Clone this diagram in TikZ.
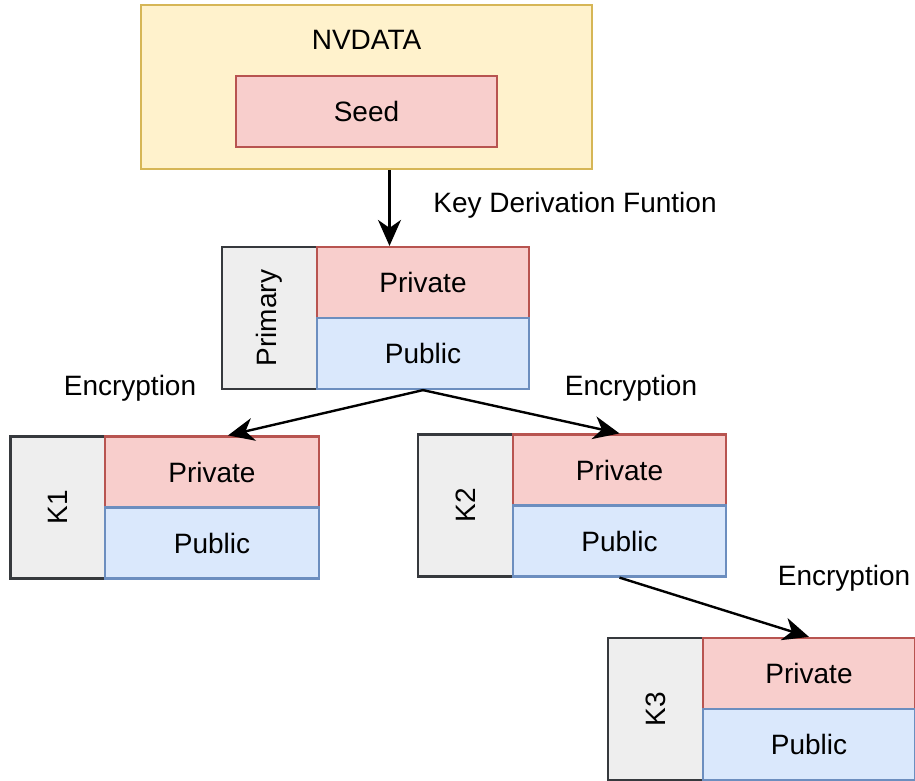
\documentclass[tikz,border=0pt]{standalone}
\usepackage{fontspec}
\setmainfont{Liberation Sans}
\usetikzlibrary{arrows.meta,calc}
\definecolor{nvfill}{HTML}{FFF2CC}
\definecolor{nvline}{HTML}{D6B656}
\definecolor{redfill}{HTML}{F8CECC}
\definecolor{redline}{HTML}{B85450}
\definecolor{bluefill}{HTML}{DAE8FC}
\definecolor{blueline}{HTML}{6C8EBF}
\definecolor{grayfill}{HTML}{EEEEEE}
\definecolor{grayline}{HTML}{36393D}
\tikzset{
  base/.style={draw, line width=2.2pt, inner sep=0pt, font=\fontsize{28}{34}\selectfont},
  nvbox/.style={base, fill=nvfill, draw=nvline},
  privbox/.style={base, fill=redfill, draw=redline, minimum width=212pt, minimum height=71pt},
  pubbox/.style={base, fill=bluefill, draw=blueline, minimum width=212pt, minimum height=71pt},
  namebox/.style={base, fill=grayfill, draw=grayline, minimum width=95pt, minimum height=142pt},
  lbl/.style={inner sep=0pt, font=\fontsize{28}{34}\selectfont},
  conn/.style={line width=2.4pt, -{Stealth[length=26pt,width=23pt,inset=8pt]}}
}
\begin{document}
\begin{tikzpicture}[x=1pt,y=-1pt]
  \useasboundingbox (0,0) rectangle (915,780);
  \clip (0,0) rectangle (915,780);

  % storage holding the seed
  \node[nvbox, minimum width=451pt, minimum height=164pt] (nv) at (366.5,87) {};
  \node[lbl] (nvtxt) at (366.5,40) {NVDATA};
  \node[base, fill=redfill, draw=redline, minimum width=261pt, minimum height=71pt] (seed) at (366.5,111.5) {Seed};

  % primary key
  \node[namebox] (prname) at (269.5,318) {\rotatebox{90}{Primary}};
  \node[privbox] (prpri) at (423,282.5) {Private};
  \node[pubbox] (prpub) at (423,353.5) {Public};

  % child key K1
  \node[namebox] (k1name) at (58,507.5) {\rotatebox{90}{K1}};
  \node[privbox, minimum width=214pt] (k1pri) at (212,472) {Private};
  \node[pubbox, minimum width=214pt] (k1pub) at (212,543) {Public};

  % child key K2
  \node[namebox] (k2name) at (465.5,505.5) {\rotatebox{90}{K2}};
  \node[privbox, minimum width=213pt] (k2pri) at (619.5,470) {Private};
  \node[pubbox, minimum width=213pt] (k2pub) at (619.5,541) {Public};

  % grandchild key K3
  \node[namebox] (k3name) at (655.5,709) {\rotatebox{90}{K3}};
  \node[privbox] (k3pri) at (809,673.5) {Private};
  \node[pubbox] (k3pub) at (809,744.5) {Public};

  % derivation and encryption links
  \coordinate (kdfstart) at ([xshift=23pt]nv.south);
  \draw[conn] (kdfstart) -- (kdfstart |- prpri.north);
  \draw[conn] (prpub.south) -- ([xshift=16pt]k1pri.north);
  \draw[conn] (prpub.south) -- (k2pri.north);
  \draw[conn] (k2pub.south) -- (k3pri.north);

  % link labels
  \node[lbl] (kdf) at (575,205) {Key Derivation Funtion};
  \node[lbl] (enc1) at (130,388) {Encryption};
  \node[lbl] (enc2) at (631,388) {Encryption};
  \node[lbl] (enc3) at (844,578) {Encryption};
\end{tikzpicture}
\end{document}
